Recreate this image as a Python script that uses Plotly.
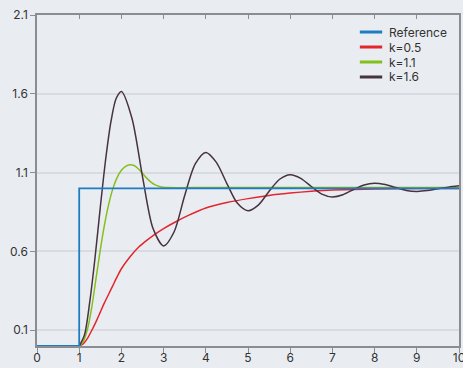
import plotly.graph_objects as go

# Reference step
ref_t = [0, 1, 1, 10]
ref_y = [0, 0, 1, 1]

# k=0.5 (red)
red_t = [1.0, 1.1, 1.2, 1.3, 1.4, 1.5, 1.6, 1.7, 1.8, 1.9, 2.0, 2.2, 2.4, 2.6, 2.8, 3.0,
         3.3, 3.6, 4.0, 4.5, 5.0, 5.5, 6.0, 6.5, 7.0, 8.0, 9.0, 10.0]
red_y = [0.0, 0.015, 0.05, 0.10, 0.155, 0.215, 0.275, 0.33, 0.385, 0.44, 0.49, 0.565, 0.625,
         0.67, 0.71, 0.745, 0.79, 0.83, 0.875, 0.91, 0.935, 0.955, 0.97, 0.982, 0.99, 0.996,
         0.999, 1.0]

# k=1.1 (green)
green_t = [1.0, 1.1, 1.2, 1.3, 1.4, 1.5, 1.6, 1.7, 1.8, 1.9, 2.0, 2.1, 2.2, 2.3, 2.4, 2.5,
           2.6, 2.7, 2.8, 2.9, 3.0, 3.1, 4.0, 6.0, 8.0, 10.0]
green_y = [0.0, 0.03, 0.11, 0.25, 0.43, 0.61, 0.77, 0.9, 1.0, 1.07, 1.115, 1.14, 1.15, 1.145,
           1.125, 1.095, 1.065, 1.04, 1.022, 1.012, 1.007, 1.005, 1.005, 1.005, 1.005, 1.005]

# k=1.6 (dark)
dark_t = [1.0, 1.125, 1.25, 1.375, 1.5, 1.625, 1.75, 1.875, 2.0, 2.25, 2.5, 2.75, 3.0, 3.25,
          3.5, 3.75, 4.0, 4.25, 4.5, 4.75, 5.0, 5.25, 5.5, 5.75, 6.0, 6.25, 6.5, 6.75, 7.0,
          7.25, 7.5, 7.75, 8.0, 8.25, 8.5, 8.75, 9.0, 9.25, 9.5, 9.75, 10.0]
dark_y = [0.0, 0.07, 0.28, 0.56, 0.88, 1.18, 1.42, 1.57, 1.615, 1.445, 1.075, 0.745, 0.635,
          0.725, 0.955, 1.155, 1.228, 1.165, 1.03, 0.905, 0.858, 0.895, 0.982, 1.058, 1.087,
          1.064, 1.012, 0.964, 0.946, 0.96, 0.993, 1.022, 1.033, 1.024, 1.005, 0.987, 0.981,
          0.986, 0.998, 1.008, 1.016]

x_ticks = list(range(0, 11))
y_ticks = [0.1, 0.6, 1.1, 1.6, 2.1]
y_tick_text = ["0.1", "0.6", "1.1", "1.6", "2.1"]

legend_names = ["Reference", "k=0.5", "k=1.1", "k=1.6"]
legend_colors = ["#1f7cc3", "#e3252e", "#84c01c", "#47323f"]

BG = "#e9edf2"
AX = "#8a8d91"
GRID = "#d8dce2"
FONT = "Inter, Roboto, sans-serif"

fig = go.Figure()
fig.add_trace(go.Scatter(x=red_t, y=red_y, mode="lines", name="k=0.5",
                         line=dict(color=legend_colors[1], width=1.5, shape="spline", smoothing=0.6)))
fig.add_trace(go.Scatter(x=green_t, y=green_y, mode="lines", name="k=1.1",
                         line=dict(color=legend_colors[2], width=1.5, shape="spline", smoothing=0.6)))
fig.add_trace(go.Scatter(x=dark_t, y=dark_y, mode="lines", name="k=1.6",
                         line=dict(color=legend_colors[3], width=1.5, shape="spline", smoothing=0.8)))
fig.add_trace(go.Scatter(x=ref_t, y=ref_y, mode="lines", name="Reference",
                         line=dict(color=legend_colors[0], width=1.8)))
# helper trace for the top axis with inward ticks
fig.add_trace(go.Scatter(x=[0, 10], y=[None, None], xaxis="x2", mode="lines",
                         showlegend=False, hoverinfo="skip"))

# compact legend (drawn as shapes + text so the row spacing matches)
leg_x0, leg_x1, leg_tx = 0.765, 0.818, 0.830
leg_y0, leg_dy = 0.9486, 0.0453
for i, (nm, col) in enumerate(zip(legend_names, legend_colors)):
    yy = leg_y0 - i * leg_dy
    fig.add_shape(type="line", xref="paper", yref="paper", x0=leg_x0, x1=leg_x1, y0=yy, y1=yy,
                  line=dict(color=col, width=3))
    fig.add_annotation(xref="paper", yref="paper", x=leg_tx, y=yy, text=nm, showarrow=False,
                       xanchor="left", yanchor="middle",
                       font=dict(family=FONT, size=12, color="#333333"))

fig.update_layout(
    width=463, height=368,
    margin=dict(l=37, r=4, t=15, b=22, autoexpand=False),
    paper_bgcolor=BG, plot_bgcolor=BG,
    font=dict(family=FONT, size=12, color="#333333"),
    showlegend=False,
    xaxis=dict(range=[0, 10], tickmode="array", tickvals=x_ticks, automargin=False,
               ticklabeloverflow="allow", ticklabelstandoff=-5,
               showgrid=False, zeroline=False, showline=True, linecolor=AX, linewidth=1.5,
               ticks="outside", ticklen=5, tickcolor=AX, tickwidth=1,
               tickfont=dict(size=12, color="#333333")),
    xaxis2=dict(overlaying="x", side="top", matches="x", range=[0, 10], tickmode="array",
                tickvals=x_ticks, showticklabels=False, showgrid=False, zeroline=False,
                automargin=False,
                showline=True, linecolor=AX, linewidth=1.5, ticks="inside", ticklen=4,
                tickcolor=AX, tickwidth=1),
    yaxis=dict(range=[0, 2.1], tickmode="array", tickvals=y_ticks, ticktext=y_tick_text,
               automargin=False, ticklabeloverflow="allow",
               showgrid=True, gridcolor=GRID, gridwidth=1.5, zeroline=False,
               showline=True, linecolor=AX, linewidth=1.5, mirror=True,
               ticks="outside", ticklen=5, tickcolor=AX, tickwidth=1,
               tickfont=dict(size=12, color="#333333")),
)

fig.write_html("out.html", config={"displayModeBar": False},
               post_script="document.body.style.margin='0px';document.body.style.overflow='hidden';")
